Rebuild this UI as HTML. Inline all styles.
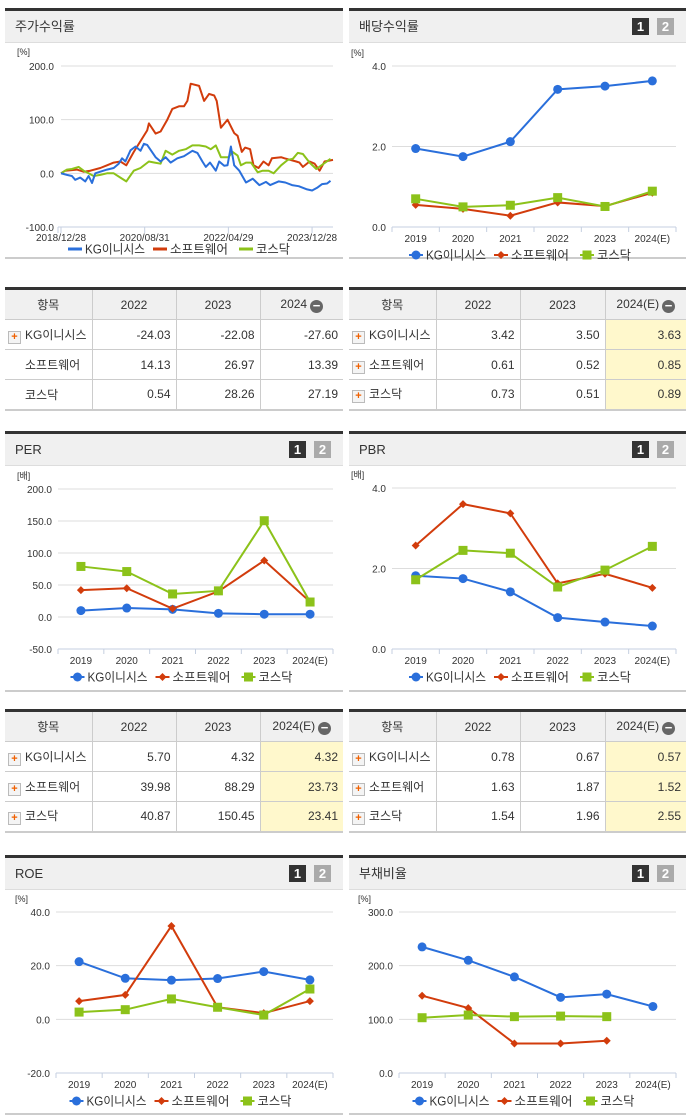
<!DOCTYPE html>
<html><head><meta charset="utf-8">
<style>
body{margin:0;width:691px;height:1115px;background:#fff;position:relative;overflow:hidden;font-family:"Liberation Sans","Noto Sans CJK KR",sans-serif;color:#333}
.panel{position:absolute;border-top:3px solid #333;border-bottom:2px solid #ccc;box-sizing:border-box}
.hdr{height:31px;background:#f0f0f0;border-bottom:1px solid #ddd;font-size:13px;line-height:31px;padding-left:10px;position:relative}
.b1,.b2{position:absolute;top:7px;width:17px;height:17px;font-size:13px;font-weight:bold;line-height:17px;text-align:center;color:#fff}
.b1{background:#333;right:37px}.b2{background:#aaa;right:12px}
table{position:absolute;border-collapse:collapse;font-size:12px;border-top:3px solid #333;border-bottom:2px solid #ccc}
td,th{border:1px solid #ccc;padding:0 5px;text-align:right;height:30px;box-sizing:border-box}
th{background:#f0f0f0;font-weight:normal;text-align:center;height:31px}
tr td:first-child,tr th:first-child{border-left:none}
tr td:last-child,tr th:last-child{border-right:none}
td.n{text-align:left;padding-left:3px;white-space:nowrap}
.pl{display:inline-block;width:11px;height:11px;border:1px solid #bbb;background:#f4f4f4;color:#f06000;font-size:11px;line-height:10px;text-align:center;font-weight:bold;margin-right:4px;vertical-align:-1px}
.mi{display:inline-block;width:13px;height:13px;border-radius:50%;background:#666;color:#fff;font-size:13px;line-height:12px;text-align:center;font-weight:bold;vertical-align:-2px;margin-left:3px}
.y{background:#fff8cc}
svg{position:absolute;left:0;top:0}
</style></head><body>
<div class="panel" style="left:5px;top:8px;width:338px;height:251px"><div class="hdr">주가수익률</div></div>
<div class="panel" style="left:349px;top:8px;width:337px;height:251px"><div class="hdr">배당수익률<span class="b1">1</span><span class="b2">2</span></div></div>
<div class="panel" style="left:5px;top:431px;width:338px;height:261px"><div class="hdr">PER<span class="b1">1</span><span class="b2">2</span></div></div>
<div class="panel" style="left:349px;top:431px;width:337px;height:261px"><div class="hdr">PBR<span class="b1">1</span><span class="b2">2</span></div></div>
<div class="panel" style="left:5px;top:855px;width:338px;height:260px"><div class="hdr">ROE<span class="b1">1</span><span class="b2">2</span></div></div>
<div class="panel" style="left:349px;top:855px;width:337px;height:260px"><div class="hdr">부채비율<span class="b1">1</span><span class="b2">2</span></div></div>

<table style="left:5px;top:287px;width:338px">
<colgroup><col style="width:85px"><col style="width:84px"><col style="width:84px"><col></colgroup>
<tr><th>항목</th><th>2022</th><th>2023</th><th>2024<span class="mi">−</span></th></tr>
<tr><td class="n"><span class="pl">+</span>KG이니시스</td><td>-24.03</td><td>-22.08</td><td>-27.60</td></tr>
<tr><td class="n" style="padding-left:20px">소프트웨어</td><td>14.13</td><td>26.97</td><td>13.39</td></tr>
<tr><td class="n" style="padding-left:20px">코스닥</td><td>0.54</td><td>28.26</td><td>27.19</td></tr>
</table>
<table style="left:349px;top:287px;width:337px">
<colgroup><col style="width:84px"><col style="width:84px"><col style="width:85px"><col></colgroup>
<tr><th>항목</th><th>2022</th><th>2023</th><th>2024(E)<span class="mi">−</span></th></tr>
<tr><td class="n"><span class="pl">+</span>KG이니시스</td><td>3.42</td><td>3.50</td><td class="y">3.63</td></tr>
<tr><td class="n"><span class="pl">+</span>소프트웨어</td><td>0.61</td><td>0.52</td><td class="y">0.85</td></tr>
<tr><td class="n"><span class="pl">+</span>코스닥</td><td>0.73</td><td>0.51</td><td class="y">0.89</td></tr>
</table>
<table style="left:5px;top:709px;width:338px">
<colgroup><col style="width:85px"><col style="width:84px"><col style="width:84px"><col></colgroup>
<tr><th>항목</th><th>2022</th><th>2023</th><th>2024(E)<span class="mi">−</span></th></tr>
<tr><td class="n"><span class="pl">+</span>KG이니시스</td><td>5.70</td><td>4.32</td><td class="y">4.32</td></tr>
<tr><td class="n"><span class="pl">+</span>소프트웨어</td><td>39.98</td><td>88.29</td><td class="y">23.73</td></tr>
<tr><td class="n"><span class="pl">+</span>코스닥</td><td>40.87</td><td>150.45</td><td class="y">23.41</td></tr>
</table>
<table style="left:349px;top:709px;width:337px">
<colgroup><col style="width:84px"><col style="width:84px"><col style="width:85px"><col></colgroup>
<tr><th>항목</th><th>2022</th><th>2023</th><th>2024(E)<span class="mi">−</span></th></tr>
<tr><td class="n"><span class="pl">+</span>KG이니시스</td><td>0.78</td><td>0.67</td><td class="y">0.57</td></tr>
<tr><td class="n"><span class="pl">+</span>소프트웨어</td><td>1.63</td><td>1.87</td><td class="y">1.52</td></tr>
<tr><td class="n"><span class="pl">+</span>코스닥</td><td>1.54</td><td>1.96</td><td class="y">2.55</td></tr>
</table>

<svg id="s" width="691" height="1115"></svg>
<script>
// ---- data ----
const years = ["2019","2020","2021","2022","2023","2024(E)"];
const seriesNames = ["KG이니시스","소프트웨어","코스닥"];
const divKG = [1.95,1.75,2.12,3.42,3.50,3.63];
const divSW = [0.55,0.45,0.28,0.61,0.52,0.85];
const divKQ = [0.70,0.50,0.54,0.73,0.51,0.89];
const perKG = [10,14,12,5.70,4.32,4.32];
const perSW = [42,45,13,39.98,88.29,23.73];
const perKQ = [79,71,36,40.87,150.45,23.41];
const pbrKG = [1.82,1.75,1.42,0.78,0.67,0.57];
const pbrSW = [2.57,3.60,3.37,1.63,1.87,1.52];
const pbrKQ = [1.72,2.45,2.38,1.54,1.96,2.55];
const roeKG = [21.5,15.3,14.6,15.2,17.8,14.7];
const roeSW = [6.8,9.1,34.8,4.5,2.3,6.8];
const roeKQ = [2.7,3.6,7.6,4.5,1.6,11.3];
const debtKG = [235,210,179,141,147,124];
const debtSW = [144,121,55,55,60,null];
const debtKQ = [103,108,105,106,105,null];
const dateTicks = ["2018/12/28","2020/08/31","2022/04/29","2023/12/28"];
const dateTickMonths = [0,20,40,60];
// stock return: month offsets from 2018/12/28 and values (%)
const retKGm = [0,1.4,2.6,3.4,4.6,5.8,6.6,7.4,8.2,9.4,11,12.6,13.8,14.6,15.4,16.6,17.8,19,19.8,20.6,22.6,23.8,25,26.2,27.8,29.4,31.4,32.6,33.8,34.6,35.6,37,37.8,39,39.8,40.6,41.4,42.6,44.2,45.8,47.4,49,50,52,53.6,55.2,56.8,58.8,60,61.2,62.4,63.6,64.4];
const retKG = [0,-3,-5,-12,-8,-15,-5,-18,0,3,7,10,18,28,22,43,50,42,55,53,30,22,30,20,28,32,42,38,22,12,20,5,22,14,15,50,15,5,-17,-10,-22,-16,-22,-15,-17,-22,-24,-30,-32,-27,-20,-19,-14,-24].slice(0,53);
const retSWm = [0,1,3.8,5.4,7,9.4,11,12.6,14.2,15.6,17.4,19,20.6,21,22.6,23.8,25.4,26.6,28.2,29.4,30.2,31,33,34.2,35.4,36.6,37.2,38.2,39.8,41.4,42.2,43.2,44,45.2,46,47.2,48.4,49.6,50.4,52.6,53.4,56.2,57,57.8,59.4,60.6,61.8,63,65];
const retSW = [0,5,7,3,5,10,15,20,22,15,40,60,80,93,74,78,100,120,125,125,135,167,163,135,148,145,135,85,100,75,70,40,48,45,15,10,22,15,28,30,28,22,20,12,22,18,5,22,25,18,18].slice(0,49);
const retKQm = [0,1.4,2.6,4.2,5.4,6.6,7.8,9.4,11,12.6,14.2,15.6,17.4,19,21,22.4,23.8,25,26.6,28.2,29.8,31.4,33,34.6,35.8,37,38.2,40,41,42.2,43,44.2,45.4,47,48.2,49.6,50.8,52.6,54.2,55.4,56.6,57.8,59.4,61,64.4];
const retKQ = [0,7,8,12,5,0,-5,-3,0,0,-8,-15,5,10,22,20,18,42,35,42,45,52,52,50,45,52,30,30,40,33,15,20,20,2,5,5,0,15,25,27,38,36,20,8,27,20,35].slice(0,45);

const S=document.getElementById('s');const NS='http://www.w3.org/2000/svg';
const C=['#2a6fdb','#d23c0c','#8cc21a'];
function el(t,a,txt){const e=document.createElementNS(NS,t);for(const k in a)e.setAttribute(k,a[k]);if(txt!=null)e.textContent=txt;S.appendChild(e);return e;}
function marker(type,x,y,c){
  let m;
  if(type===0)m=el('circle',{cx:x,cy:y,r:4.5,fill:c});
  else if(type===1)m=el('polygon',{points:`${x},${y-4} ${x+4},${y} ${x},${y+4} ${x-4},${y}`,fill:c});
  else m=el('rect',{x:x-4.5,y:y-4.5,width:9,height:9,fill:c});
  return m;
}
function legend(cx,y,markers){
  const offs=[-105,-20,66];const tl=[60,58,34];
  for(let i=0;i<3;i++){
    const x=cx+offs[i];
    const ln=el('line',{x1:x-7,y1:y,x2:x+7,y2:y,stroke:C[i],'stroke-width':markers?2:3});
    
    if(markers){const m=marker(i,x,y,C[i]);}
    const t=el('text',{x:x+10,y:y+4.5,'font-size':12.5,fill:'#333',textLength:tl[i],lengthAdjust:'spacingAndGlyphs'},seriesNames[i]);
    
  }
}
function catChart(o){
  const yS=v=>o.y0+(o.max-v)/(o.max-o.min)*(o.y1-o.y0);
  const bw=(o.xR-o.xL)/years.length;const xS=i=>o.xL+bw*(i+0.5);
  const u=el('text',{x:o.xL-41,y:o.y0-10,'font-size':9,fill:'#333'},o.unit);
  
  o.ticks.forEach(v=>{const y=yS(v);
    if(v!==o.min){const g=el('line',{x1:o.xL,y1:y,x2:o.xR,y2:y,stroke:'#ddd'});}
    const t=el('text',{x:o.xL-6,y:y+4,'font-size':10,'text-anchor':'end',fill:'#333'},v.toFixed(1));
    });
  const a=el('line',{x1:o.xL,y1:o.y1,x2:o.xR,y2:o.y1,stroke:'#c5cfe0'});
  for(let i=0;i<=years.length;i++){const tk=el('line',{x1:o.xL+bw*i,y1:o.y1,x2:o.xL+bw*i,y2:o.y1+5,stroke:'#c5cfe0'});}
  years.forEach((yv,i)=>{const t=el('text',{x:xS(i),y:o.y1+15,'font-size':10,'text-anchor':'middle',fill:'#333'},yv);});
  o.series.forEach((arr,si)=>{
    let d='';arr.forEach((v,i)=>{if(v==null)return;d+=(d?'L':'M')+xS(i)+','+yS(v);});
    const p=el('path',{d:d,fill:'none',stroke:C[si],'stroke-width':2});
    
    arr.forEach((v,i)=>{if(v==null)return;const m=marker(si,xS(i),yS(v),C[si]);
      });
  });
  legend((o.xL+o.xR)/2-13,o.y1+28,true);
}
// stock return chart
(function(){
  const xL=61,xR=333,y0=66,y1=227,max=200,min=-100,months=65;
  const yS=v=>y0+(max-v)/(max-min)*(y1-y0);const xS=m=>xL+m/months*(xR-xL);
  const u=el('text',{x:17,y:55,'font-size':9,fill:'#333'},'[%]');
  [200,100,0,-100].forEach(v=>{const y=yS(v);
    if(v!==min){const g=el('line',{x1:xL,y1:y,x2:xR,y2:y,stroke:'#ddd'});}
    const t=el('text',{x:xL-7,y:y+4,'font-size':10,'text-anchor':'end',fill:'#333'},v.toFixed(1));});
  const a=el('line',{x1:xL-3,y1:y1,x2:xR,y2:y1,stroke:'#c5cfe0'});
  const al=el('line',{x1:xL-3,y1:y1,x2:xL-3,y2:y1+6,stroke:'#c5cfe0'});
  dateTicks.forEach((d,i)=>{const x=xS(dateTickMonths[i]);
    const tk=el('line',{x1:x,y1:y1,x2:x,y2:y1+6,stroke:'#c5cfe0'});
    const t=el('text',{x:x,y:y1+14,'font-size':10,'text-anchor':'middle',fill:'#333'},d);});
  [[retSWm,retSW,1],[retKQm,retKQ,2],[retKGm,retKG,0]].forEach(([ms,vs,si])=>{
    let d='';vs.forEach((v,i)=>{d+=(i?'L':'M')+xS(ms[i]).toFixed(1)+','+yS(v).toFixed(1);});
    const p=el('path',{d:d,fill:'none',stroke:C[si],'stroke-width':2,'stroke-linejoin':'round'});
    });
  legend(180,249,false);
})();
catChart({xL:392,xR:676,y0:66,y1:227,max:4,min:0,ticks:[4,2,0],unit:'[%]',series:[divKG,divSW,divKQ]});
catChart({xL:58,xR:333,y0:489,y1:649,max:200,min:-50,ticks:[200,150,100,50,0,-50],unit:'[배]',series:[perKG,perSW,perKQ]});
catChart({xL:392,xR:676,y0:488,y1:649,max:4,min:0,ticks:[4,2,0],unit:'[배]',series:[pbrKG,pbrSW,pbrKQ]});
catChart({xL:56,xR:333,y0:912,y1:1073,max:40,min:-20,ticks:[40,20,0,-20],unit:'[%]',series:[roeKG,roeSW,roeKQ]});
catChart({xL:399,xR:676,y0:912,y1:1073,max:300,min:0,ticks:[300,200,100,0],unit:'[%]',series:[debtKG,debtSW,debtKQ]});
</script>
</body></html>
